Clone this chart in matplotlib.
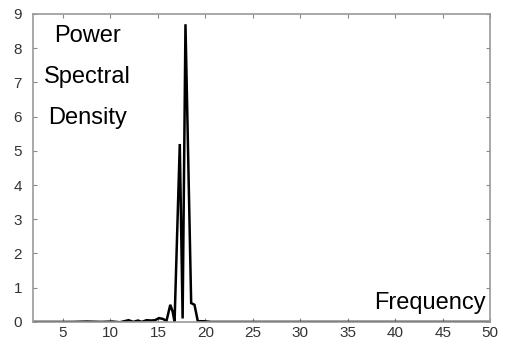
import matplotlib.pyplot as plt

# spectrum
freq = [1.85, 4, 6, 7.5, 9, 10.2, 11, 11.9, 12.4, 12.9, 13.3, 13.8, 14.3, 14.7,
        15.1, 15.5, 15.9, 16.3, 16.55, 16.75, 17.3, 17.6, 17.9, 18.5, 18.85,
        19.2, 19.8, 20.6, 22, 50]
power = [0.0, 0.0, 0.0, 0.01, 0.0, 0.01, -0.01, 0.05, 0.0, 0.04, 0.0, 0.05,
         0.04, 0.05, 0.11, 0.09, 0.03, 0.5, 0.3, 0.0, 5.2, 0.1, 8.7, 0.55, 0.5,
         0.02, 0.02, 0.0, 0.0, 0.0]

xticks = [5, 10, 15, 20, 25, 30, 35, 40, 45, 50]
yticks = [0, 1, 2, 3, 4, 5, 6, 7, 8, 9]

plt.rcParams['font.family'] = ['Liberation Sans', 'DejaVu Sans']

fig = plt.figure(figsize=(5.1, 3.41), dpi=100)
ax = fig.add_axes([0.065, 0.056, 0.896, 0.903])

ax.plot(freq, power, color='black', lw=1.8, solid_joinstyle='miter')

ax.set_xlim(1.85, 50)
ax.set_ylim(0, 9)
ax.set_xticks(xticks)
ax.set_yticks(yticks)
ax.tick_params(direction='in', length=3, width=0.8, color='#888888',
               labelsize=11, labelcolor='#333333', top=True, right=True)
ax.tick_params(axis='y', pad=8)
ax.tick_params(axis='x', pad=3)
for s in ax.spines.values():
    s.set_color('#999999')
    s.set_linewidth(1.2)

ax.text(7.6, 8.36, 'Power', fontsize=17, ha='center', va='center')
ax.text(7.6, 7.16, 'Spectral', fontsize=17, ha='center', va='center')
ax.text(7.6, 5.96, 'Density', fontsize=17, ha='center', va='center')
ax.text(49.5, 0.55, 'Frequency', fontsize=17, ha='right', va='center')

fig.savefig('out.png', dpi=100)
